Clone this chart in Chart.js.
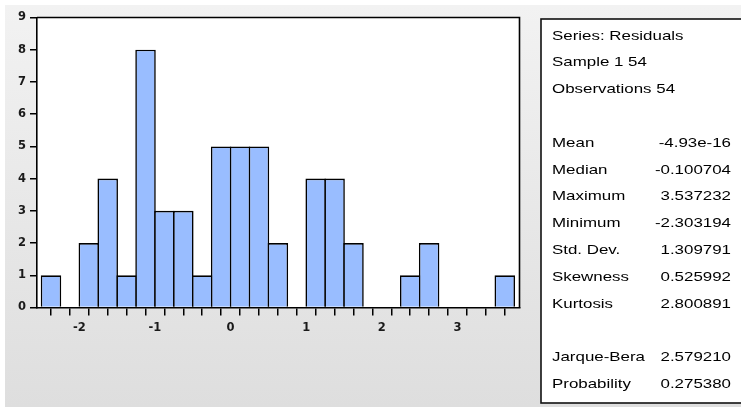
<!DOCTYPE html>
<html>
<head>
<meta charset="utf-8">
<script src="https://cdn.jsdelivr.net/npm/chart.js@4.4.1/dist/chart.umd.min.js"></script>
<style>
  html, body { margin: 0; padding: 0; background: #ffffff; }
  #wrap { position: relative; width: 741px; height: 407px; }
</style>
</head>
<body>
<div id="wrap"><canvas id="c"></canvas></div>
<script>
// ---- data ----
const binCenters = [-2.375, -2.125, -1.875, -1.625, -1.375, -1.125, -0.875, -0.625, -0.375, -0.125,
                    0.125, 0.375, 0.625, 0.875, 1.125, 1.375, 1.625, 1.875, 2.125, 2.375,
                    2.625, 2.875, 3.125, 3.375, 3.625];
const counts = [1, 0, 2, 4, 1, 8, 3, 3, 1, 5,
                5, 5, 2, 0, 4, 4, 2, 0, 0, 1,
                2, 0, 0, 0, 1];
const xTickValues = [-2.5, -2.25, -2, -1.75, -1.5, -1.25, -1, -0.75, -0.5, -0.25,
                     0, 0.25, 0.5, 0.75, 1, 1.25, 1.5, 1.75, 2, 2.25,
                     2.5, 2.75, 3, 3.25, 3.5, 3.75];
const xTickLabels = ['-2', '-1', '0', '1', '2', '3'];
const xLabelValues = [-2, -1, 0, 1, 2, 3];
const yTickValues = [0, 1, 2, 3, 4, 5, 6, 7, 8, 9];

const headerLines = ['Series: Residuals', 'Sample 1 54', 'Observations 54'];
const statNames = ['Mean', 'Median', 'Maximum', 'Minimum', 'Std. Dev.', 'Skewness', 'Kurtosis'];
const statValues = ['-4.93e-16', '-0.100704', '3.537232', '-2.303194', '1.309791', '0.525992', '2.800891'];
const testNames = ['Jarque-Bera', 'Probability'];
const testValues = ['2.579210', '0.275380'];

// ---- styling ----
const BAR_FILL = 'rgb(153,189,255)';
const BORDER_W = 1.6;
const TICK_FONT = { family: 'DejaVu Sans', size: 11.5, weight: 'bold' };

const bgPlugin = {
  id: 'bg',
  beforeDraw(chart) {
    const ctx = chart.ctx;
    const W = chart.width, H = chart.height;
    ctx.save();
    ctx.fillStyle = '#ffffff';
    ctx.fillRect(0, 0, W, H);
    const g = ctx.createLinearGradient(0, 5, 0, H);
    g.addColorStop(0, '#f2f2f2');
    g.addColorStop(1, '#dedede');
    ctx.fillStyle = g;
    ctx.fillRect(5, 5, W - 5, H - 5);
    const a = chart.chartArea;
    ctx.fillStyle = '#ffffff';
    ctx.fillRect(a.left, a.top, a.right - a.left, a.bottom - a.top);
    ctx.restore();
  },
  afterDraw(chart) {
    const ctx = chart.ctx;
    const a = chart.chartArea;
    ctx.save();
    ctx.strokeStyle = '#000';
    ctx.lineWidth = 1.6;
    ctx.beginPath();
    ctx.moveTo(a.left, a.top);
    ctx.lineTo(a.right, a.top);
    ctx.lineTo(a.right, a.bottom);
    ctx.stroke();

    const bx = 541, by = 19, bw = 210, bh = 384;
    ctx.fillStyle = '#ffffff';
    ctx.fillRect(bx, by, bw, bh);
    ctx.strokeStyle = '#111';
    ctx.lineWidth = 1.6;
    ctx.strokeRect(bx, by, bw, bh);

    ctx.fillStyle = '#000';
    ctx.font = '13px "Liberation Sans", Arial, sans-serif';
    ctx.textBaseline = 'alphabetic';
    const rowY = k => 39.5 + k * 26.8;
    const SX = 1.3;
    function leftText(t, y) {
      ctx.save(); ctx.translate(552, y); ctx.scale(SX, 1);
      ctx.textAlign = 'left'; ctx.fillText(t, 0, 0); ctx.restore();
    }
    function rightText(t, y) {
      ctx.save(); ctx.translate(731, y); ctx.scale(SX, 1);
      ctx.textAlign = 'right'; ctx.fillText(t, 0, 0); ctx.restore();
    }
    headerLines.forEach((t, i) => leftText(t, rowY(i)));
    statNames.forEach((t, i) => { leftText(t, rowY(4 + i)); rightText(statValues[i], rowY(4 + i)); });
    testNames.forEach((t, i) => { leftText(t, rowY(12 + i)); rightText(testValues[i], rowY(12 + i)); });
    ctx.restore();
  }
};

const binPx = 0.25 * 75.68;

new Chart(document.getElementById('c'), {
  type: 'bar',
  data: {
    datasets: [{
      data: binCenters.map((x, i) => ({ x: x, y: counts[i] })),
      backgroundColor: BAR_FILL,
      borderColor: '#000',
      borderWidth: BORDER_W,
      borderSkipped: 'start',
      categoryPercentage: 1,
      barPercentage: 1 + BORDER_W / binPx
    }]
  },
  options: {
    responsive: true,
    maintainAspectRatio: false,
    animation: false,
    devicePixelRatio: 1,
    layout: { padding: { left: 0, top: 17.5, right: 221.5, bottom: 69.5 } },
    plugins: { legend: { display: false }, tooltip: { enabled: false } },
    scales: {
      x: {
        type: 'linear',
        min: -2.56,
        max: 3.82,
        offset: false,
        afterBuildTicks(axis) { axis.ticks = xTickValues.map(v => ({ value: v })); },
        afterFit(axis) { axis.height = 30; },
        ticks: {
          autoSkip: false,
          maxRotation: 0,
          minRotation: 0,
          padding: 6,
          color: '#1a1a1a',
          font: TICK_FONT,
          callback(value) {
            const idx = xLabelValues.indexOf(value);
            return idx >= 0 ? xTickLabels[idx] : '';
          }
        },
        grid: { drawOnChartArea: false, drawTicks: true, tickLength: 8, color: '#000', lineWidth: 1.5 },
        border: { display: true, color: '#000', width: 1.6 }
      },
      y: {
        type: 'linear',
        position: 'left',
        min: 0,
        max: 9,
        afterBuildTicks(axis) { axis.ticks = yTickValues.map(v => ({ value: v })); },
        afterFit(axis) { axis.width = 37; },
        ticks: {
          padding: 4,
          color: '#1a1a1a',
          font: TICK_FONT
        },
        grid: { drawOnChartArea: false, drawTicks: true, tickLength: 7, color: '#000', lineWidth: 1.5 },
        border: { display: true, color: '#000', width: 1.6 }
      }
    }
  },
  plugins: [bgPlugin]
});
</script>
</body>
</html>
